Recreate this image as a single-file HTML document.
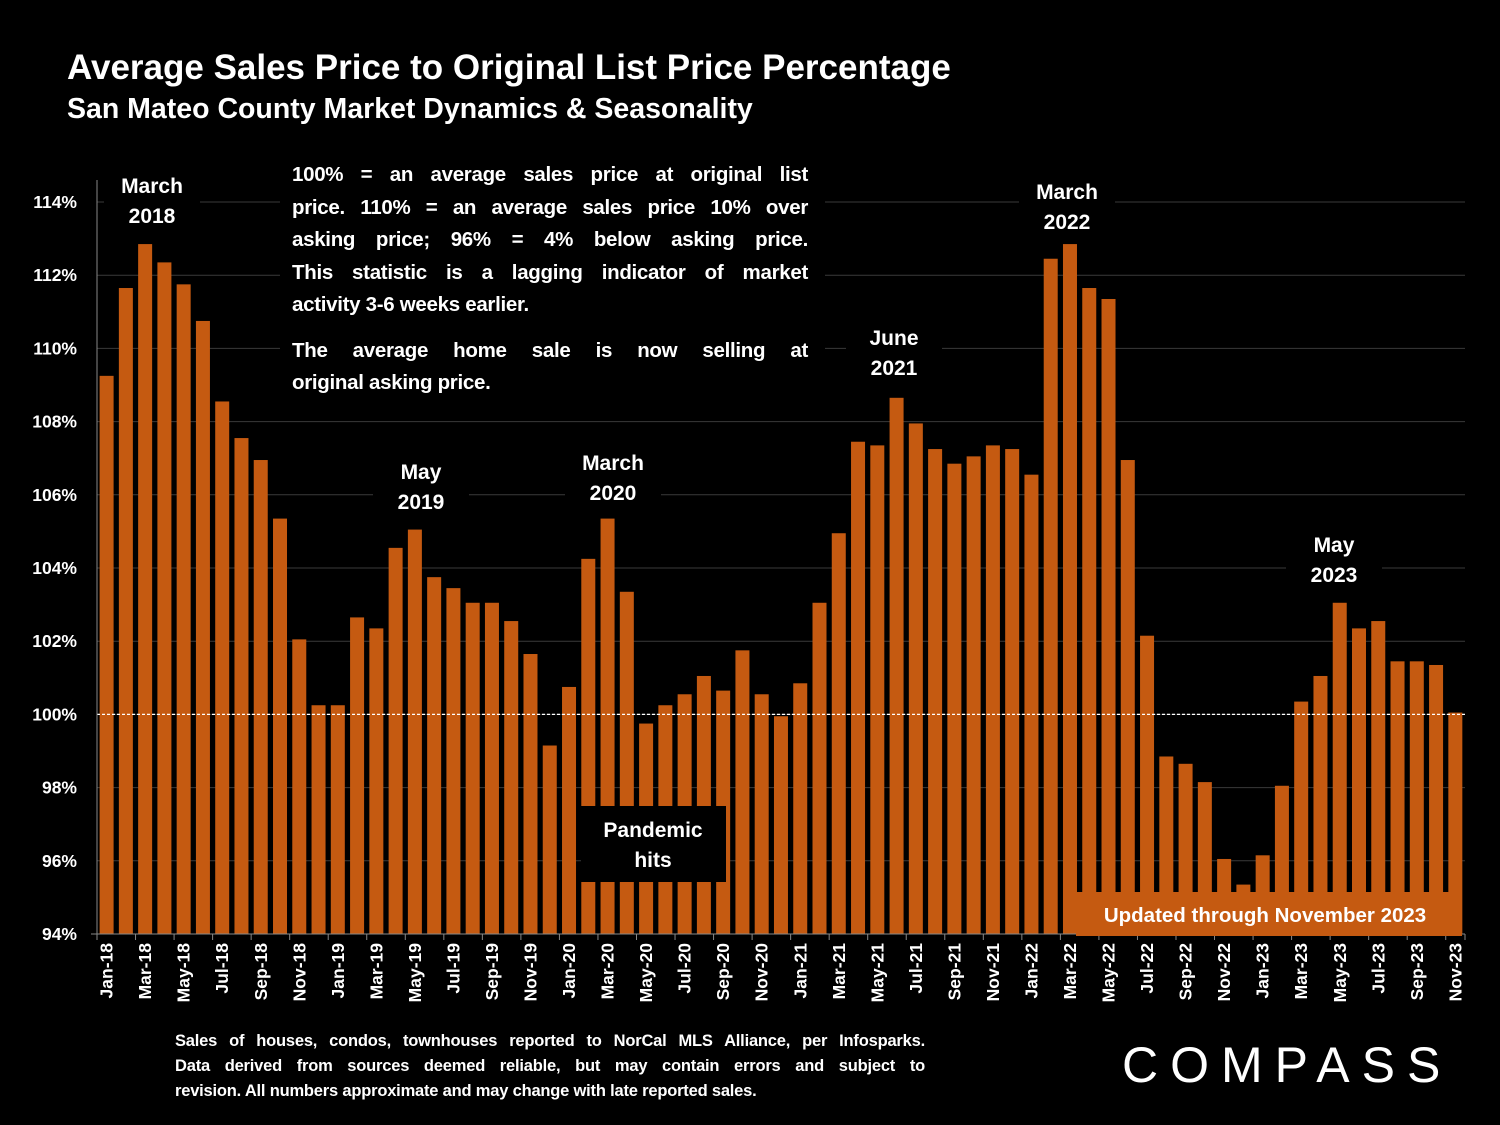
<!DOCTYPE html>
<html><head><meta charset="utf-8"><style>
html,body{margin:0;padding:0;background:#000;}
body{width:1500px;height:1125px;overflow:hidden;font-family:"Liberation Sans",sans-serif;color:#fff;position:relative;}
.t{position:absolute;font-weight:bold;}
.j{text-align:justify;text-align-last:justify;white-space:nowrap;}
.l{text-align:left;white-space:nowrap;}
</style></head><body>
<div class="t" style="left:67px;top:48px;font-size:35px;">Average Sales Price to Original List Price Percentage</div>
<div class="t" style="left:67px;top:93px;font-size:28.5px;">San Mateo County Market Dynamics &amp; Seasonality</div>
<svg id="chart" width="1500" height="1125" style="position:absolute;left:0;top:0"></svg>
<div class="t" style="left:292px;top:159px;width:516px;font-size:20.5px;line-height:32.5px;letter-spacing:-0.3px;">
<div class="j">100% = an average sales price at original list</div>
<div class="j">price. 110% = an average sales price 10% over</div>
<div class="j">asking price; 96% = 4% below asking price.</div>
<div class="j">This statistic is a lagging indicator of market</div>
<div class="l">activity 3-6 weeks earlier.</div>
<div class="j" style="margin-top:13px">The average home sale is now selling at</div>
<div class="l">original asking price.</div>
</div>
<div class="t" style="left:175px;top:1029px;width:750px;font-size:16.5px;line-height:25px;letter-spacing:-0.2px;">
<div class="j">Sales of houses, condos, townhouses reported to NorCal MLS Alliance, per Infosparks.</div>
<div class="j">Data derived from sources deemed reliable, but may contain errors and subject to</div>
<div class="l">revision. All numbers approximate and may change with late reported sales.</div>
</div>
<div class="t" style="left:1122px;top:1036px;font-size:50px;font-weight:normal;letter-spacing:12px;">COMPASS</div>
<script>
const categories=[];
const mons=["Jan","Feb","Mar","Apr","May","Jun","Jul","Aug","Sep","Oct","Nov","Dec"];
for(let y=18;y<=23;y++)for(let m=0;m<12;m++){if(y===23&&m>10)break;categories.push(mons[m]+"-"+y);}
const values=[109.25,111.65,112.85,112.35,111.75,110.75,108.55,107.55,106.95,105.35,102.05,100.25,
100.25,102.65,102.35,104.55,105.05,103.75,103.45,103.05,103.05,102.55,101.65,99.15,
100.75,104.25,105.35,103.35,99.75,100.25,100.55,101.05,100.65,101.75,100.55,99.95,
100.85,103.05,104.95,107.45,107.35,108.65,107.95,107.25,106.85,107.05,107.35,107.25,
106.55,112.45,112.85,111.65,111.35,106.95,102.15,98.85,98.65,98.15,96.05,95.35,
96.15,98.05,100.35,101.05,103.05,102.35,102.55,101.45,101.45,101.35,100.05];
const yTicks=[94,96,98,100,102,104,106,108,110,112,114];
const X0=97,X1=1465,Y0=934,PPU=36.6;
const svg=document.getElementById('chart');const NS="http://www.w3.org/2000/svg";
const cw=(X1-X0)/categories.length;
function xs(i){return X0+cw*i;}
function ys(v){return Y0-(v-94)*PPU;}
function mk(t,a,p){const e=document.createElementNS(NS,t);for(const k in a)e.setAttribute(k,a[k]);(p||svg).appendChild(e);return e;}
yTicks.forEach(v=>{
 const g=mk('line',{x1:X0,x2:X1,y1:ys(v),y2:ys(v),stroke:'#3a3a3a','stroke-width':1});
 
 
 const t=mk('text',{x:77,y:ys(v)+6,'text-anchor':'end','font-size':17.5,'font-weight':'bold',fill:'#fff','font-family':'Liberation Sans'});
 t.textContent=v+'%';
 
 
});
values.forEach((v,i)=>{
 const b=mk('rect',{x:xs(i)+2.6,y:ys(v),width:14,height:Y0-ys(v),fill:'#C55A11'});
 
 
});
const ref=mk('line',{x1:X0,x2:X1,y1:ys(100),y2:ys(100),stroke:'#fff','stroke-width':1.2,'stroke-dasharray':'3,2'});


mk('line',{x1:X0,x2:X0,y1:180,y2:Y0,stroke:'#888'});
mk('line',{x1:X0-6,x2:X1,y1:Y0,y2:Y0,stroke:'#888'});
categories.forEach((c,i)=>{
 if(i%2===0){
  mk('line',{x1:xs(i),x2:xs(i),y1:Y0,y2:Y0+6,stroke:'#888'});
  const cx=xs(i)+cw/2+6;
  const t=mk('text',{x:cx,y:943,'text-anchor':'end','font-size':17.5,'font-weight':'bold',fill:'#fff','font-family':'Liberation Sans',transform:`rotate(-90 ${cx} 943)`});
  t.textContent=c;
  
  
 }
});
mk('line',{x1:X1,x2:X1,y1:Y0,y2:Y0+6,stroke:'#888'});
mk('rect',{x:280,y:160,width:545,height:240,fill:'#000'});
const labels=[["March","2018",152,186],["May","2019",421,472],["March","2020",613,463],["June","2021",894,338],["March","2022",1067,192],["May","2023",1334,545]];
labels.forEach(l=>{
 mk('rect',{x:l[2]-48,y:l[3]-22,width:96,height:62,fill:'#000'});
 [l[0],l[1]].forEach((s,k)=>{const t=mk('text',{x:l[2],y:l[3]+7+k*30,'text-anchor':'middle','font-size':21,'font-weight':'bold',fill:'#fff','font-family':'Liberation Sans'});t.textContent=s;
 
 });
});
mk('rect',{x:581,y:806,width:145,height:76,fill:'#000'});
[["Pandemic",837],["hits",867]].forEach(a=>{const t=mk('text',{x:653,y:a[1],'text-anchor':'middle','font-size':21,'font-weight':'bold',fill:'#fff','font-family':'Liberation Sans'});t.textContent=a[0];

});
mk('rect',{x:1076,y:892,width:386,height:44,fill:'#C55A11'});
const u=mk('text',{x:1265,y:922,'text-anchor':'middle','font-size':20.5,'font-weight':'bold',fill:'#fff','font-family':'Liberation Sans'});
u.textContent='Updated through November 2023';


</script>
</body></html>
